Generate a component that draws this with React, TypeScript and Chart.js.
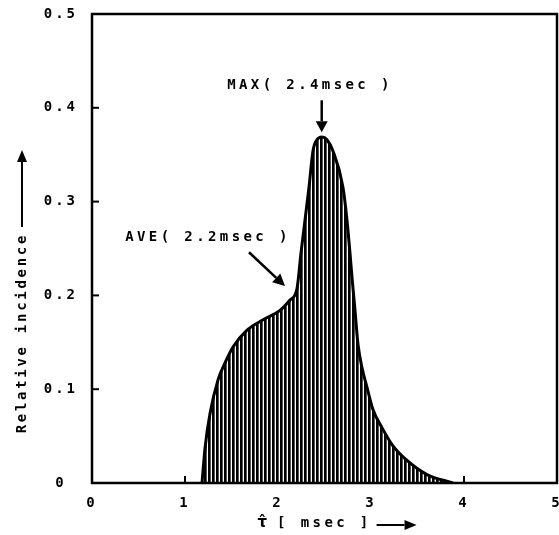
import React, { useEffect, useRef } from "react";
import { Chart, registerables } from "chart.js";
Chart.register(...registerables);

// Curve: tau [msec] vs relative incidence
const tau = [1.183, 1.215, 1.269, 1.355, 1.43, 1.516, 1.667, 1.839, 2.022, 2.129, 2.204, 2.247, 2.29, 2.333, 2.376, 2.419, 2.473, 2.527, 2.591, 2.699, 2.742, 2.774, 2.796, 2.828, 2.86, 2.903, 2.957, 3.022, 3.118, 3.226, 3.387, 3.602, 3.882];
const incidence = [0, 0.037, 0.074, 0.11, 0.128, 0.145, 0.163, 0.174, 0.184, 0.195, 0.207, 0.245, 0.28, 0.315, 0.354, 0.366, 0.369, 0.366, 0.354, 0.315, 0.28, 0.245, 0.219, 0.184, 0.148, 0.123, 0.102, 0.078, 0.059, 0.041, 0.024, 0.009, 0];

const xTicks = [0, 1, 2, 3, 4, 5];
const yTicks = [0, 0.1, 0.2, 0.3, 0.4, 0.5];
const xInnerTicks = [1, 2, 3, 4];
const yInnerTicks = [0.1, 0.2, 0.3, 0.4];

const maxLabel = "MAX( 2.4msec )";
const aveLabel = "AVE( 2.2msec )";
const yTitle = "Relative incidence";
const xTitleSymbol = "τ̂";
const xTitleUnit = "[ msec ]";

const MONO = '"DejaVu Sans Mono", "Liberation Mono", monospace';

function arrow(ctx: CanvasRenderingContext2D, x1: number, y1: number, x2: number, y2: number, head = 11, half = 5) {
  const ang = Math.atan2(y2 - y1, x2 - x1);
  const bx = x2 - head * Math.cos(ang);
  const by = y2 - head * Math.sin(ang);
  ctx.beginPath();
  ctx.moveTo(x1, y1);
  ctx.lineTo(bx, by);
  ctx.stroke();
  ctx.beginPath();
  ctx.moveTo(x2, y2);
  ctx.lineTo(bx + half * Math.sin(ang), by - half * Math.cos(ang));
  ctx.lineTo(bx - half * Math.sin(ang), by + half * Math.cos(ang));
  ctx.closePath();
  ctx.fill();
}

export default function App() {
  const ref = useRef<HTMLCanvasElement>(null);
  useEffect(() => {
    const canvas = ref.current!;
    const pc = document.createElement("canvas");
    pc.width = 4;
    pc.height = 4;
    const pctx = pc.getContext("2d")!;
    pctx.fillStyle = "#fff";
    pctx.fillRect(0, 0, 4, 4);
    pctx.fillStyle = "#000";
    pctx.fillRect(0, 0, 2, 4);
    pctx.fillStyle = "#555";
    pctx.fillRect(2, 0, 1, 4);
    const pattern = canvas.getContext("2d")!.createPattern(pc, "repeat")!;

    const tickFont = { family: MONO, size: 14, weight: "bold" as const };

    const spacing = {
      id: "spacing",
      beforeUpdate(c: any) { c.ctx.letterSpacing = "3px"; },
      beforeDraw(c: any) { c.ctx.letterSpacing = "3px"; },
    };

    const zeroPad = (s: any) => {
      s.paddingLeft = 0;
      s.paddingRight = 0;
      s.paddingTop = 0;
      s.paddingBottom = 0;
    };

    const decor = {
      id: "decor",
      beforeDatasetsDraw(c: any) {
        const ctx = c.ctx as CanvasRenderingContext2D;
        const xs = c.scales.x, ys = c.scales.y;
        const a = c.chartArea;
        ctx.save();
        ctx.strokeStyle = "#000";
        ctx.lineWidth = 2;
        for (const v of yInnerTicks) {
          const y = ys.getPixelForValue(v);
          ctx.beginPath(); ctx.moveTo(a.left, y); ctx.lineTo(a.left + 7, y); ctx.stroke();
        }
        for (const v of xInnerTicks) {
          const x = xs.getPixelForValue(v);
          ctx.beginPath(); ctx.moveTo(x, a.bottom); ctx.lineTo(x, a.bottom - 7); ctx.stroke();
        }
        ctx.restore();
      },
      afterDraw(c: any) {
        const ctx = c.ctx as CanvasRenderingContext2D;
        const xs = c.scales.x, ys = c.scales.y;
        const a = c.chartArea;
        ctx.save();
        ctx.strokeStyle = "#000";
        ctx.fillStyle = "#000";
        ctx.lineWidth = 2.5;
        ctx.strokeRect(a.left, a.top, a.right - a.left, a.bottom - a.top);

        (ctx as any).letterSpacing = "3.4px";
        ctx.font = `bold 14px ${MONO}`;
        ctx.textAlign = "center";
        ctx.textBaseline = "middle";
        ctx.fillText(maxLabel, xs.getPixelForValue(2.344), ys.getPixelForValue(0.424));
        ctx.fillText(aveLabel, xs.getPixelForValue(1.247), ys.getPixelForValue(0.262));

        ctx.lineWidth = 2.5;
        arrow(ctx, xs.getPixelForValue(2.47), ys.getPixelForValue(0.408), xs.getPixelForValue(2.47), ys.getPixelForValue(0.374), 11, 6);
        arrow(ctx, xs.getPixelForValue(1.688), ys.getPixelForValue(0.246), xs.getPixelForValue(2.075), ys.getPixelForValue(0.21), 12, 6);

        // x title
        const ty = a.bottom + 40;
        ctx.textAlign = "left";
        ctx.fillText(xTitleUnit, xs.getPixelForValue(1.99), ty);
        (ctx as any).letterSpacing = "0px";
        ctx.textAlign = "center";
        ctx.font = `bold 15px "DejaVu Sans", sans-serif`;
        ctx.fillText(xTitleSymbol, xs.getPixelForValue(1.83), ty);
        ctx.lineWidth = 2;
        arrow(ctx, xs.getPixelForValue(3.06), ty + 2, xs.getPixelForValue(3.49), ty + 2, 12, 5);

        // y title (rotated)
        (ctx as any).letterSpacing = "2.7px";
        ctx.font = `bold 14px ${MONO}`;
        ctx.textAlign = "left";
        const y0 = ys.getPixelForValue(0.053);
        const yTip = ys.getPixelForValue(0.355);
        ctx.translate(22, y0);
        ctx.rotate(-Math.PI / 2);
        ctx.fillText(yTitle, 0, 0);
        const w = ctx.measureText(yTitle).width;
        ctx.lineWidth = 2;
        arrow(ctx, w + 6, 0, y0 - yTip, 0, 12, 5);
        ctx.restore();
      },
    };

    const chart = new Chart(canvas, {
      type: "line",
      data: {
        datasets: [
          {
            data: tau.map((t, i) => ({ x: t, y: incidence[i] })),
            borderColor: "#000",
            borderWidth: 3,
            backgroundColor: pattern as any,
            fill: "origin",
            pointRadius: 0,
            cubicInterpolationMode: "monotone",
          },
        ],
      },
      options: {
        animation: false,
        responsive: false,
        layout: { padding: { top: 14, right: 2, left: 0, bottom: 0 }, autoPadding: false } as any,
        plugins: { legend: { display: false }, tooltip: { enabled: false } },
        scales: {
          x: {
            type: "linear",
            min: 0,
            max: 5,
            afterBuildTicks: (s: any) => { s.ticks = xTicks.map((v) => ({ value: v })); },
            afterFit: (s: any) => { s.height = 52; zeroPad(s); },
            grid: { display: false, drawTicks: false },
            border: { display: false },
            ticks: { padding: 12, font: tickFont, color: "#000", maxRotation: 0 },
          },
          y: {
            type: "linear",
            min: 0,
            max: 0.5,
            afterBuildTicks: (s: any) => { s.ticks = yTicks.map((v) => ({ value: v })); },
            afterFit: (s: any) => { s.width = 92; zeroPad(s); },
            grid: { display: false, drawTicks: false },
            border: { display: false },
            ticks: { padding: 14, font: tickFont, color: "#000", crossAlign: "center" },
          },
        },
      },
      plugins: [spacing, decor],
    });
    return () => chart.destroy();
  }, []);
  return (
    <div style={{ position: "absolute", left: 0, top: 0, width: 559, height: 535, background: "#fff" }}>
      <canvas ref={ref} width={559} height={535} style={{ display: "block" }} />
    </div>
  );
}
